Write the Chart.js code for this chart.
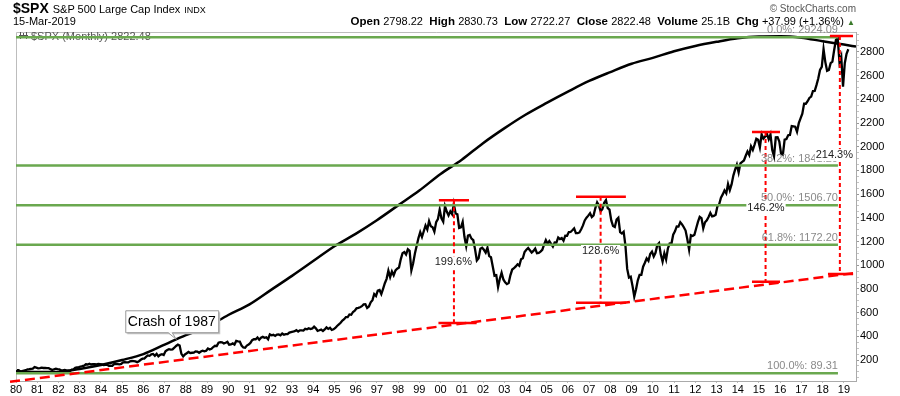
<!DOCTYPE html>
<html lang="en">
<head>
<meta charset="UTF-8">
<title>$SPX S&amp;P 500 Large Cap Index</title>
<script src="https://cdn.jsdelivr.net/npm/chart.js@4"></script>
<style>
    body { margin: 0; background: #fff; }
    #wrap { position: relative; width: 900px; height: 396px; font-family: 'Liberation Sans', Arial, sans-serif; color: #000; }
    #wrap canvas { position: absolute; left: 0; top: 0; }
    .hdr { position: absolute; white-space: nowrap; line-height: 1; }
    .hdr b { font-size: 11.5px; }
</style>
</head>
<body>
<div id="wrap">
    <canvas id="chart" width="900" height="396"></canvas>
    <div class="hdr" style="left:13px;top:1px;font-size:14px"><b style="font-size:14px">$SPX</b> <span style="font-size:11px">S&amp;P 500 Large Cap Index</span> <span style="font-size:9px">INDX</span></div>
    <div class="hdr" style="left:13px;top:16px;font-size:11px">15-Mar-2019</div>
    <div class="hdr" style="right:45px;top:16px;font-size:11.5px"><b>Open</b> <span style="font-size:11px">2798.22</span>&nbsp; <b>High</b> <span style="font-size:11px">2830.73</span>&nbsp; <b>Low</b> <span style="font-size:11px">2722.27</span>&nbsp; <b>Close</b> <span style="font-size:11px">2822.48</span>&nbsp; <b>Volume</b> <span style="font-size:11px">25.1B</span>&nbsp; <b>Chg</b> <span style="font-size:11px">+37.99 (+1.36%)</span> <span style="font-size:8px;color:#3a7a2a">&#9650;</span></div>
    <div class="hdr" style="right:44px;top:4px;font-size:10px;color:#555">&copy; StockCharts.com</div>
</div>

<script>
    // monthly closes, starting Jan 1980
    const startYear = 1980;
    const spxClose = [
        114.16,113.66,102.09,106.29,111.24,114.24,121.67,122.38,125.46,127.47,140.52,135.76,
        129.55,131.27,136.00,132.81,132.59,131.21,130.92,122.79,116.18,121.89,126.35,122.55,
        120.40,113.11,111.96,116.44,111.88,109.61,107.09,119.51,120.42,133.71,138.54,140.64,
        145.30,148.06,152.96,164.42,162.39,168.11,162.56,164.40,166.07,163.55,166.40,164.93,
        163.41,157.06,159.18,160.05,150.55,153.18,150.66,166.68,166.10,166.09,163.58,167.24,
        179.63,181.18,180.66,179.83,189.55,191.85,190.92,188.63,182.08,189.82,202.17,211.28,
        211.78,226.92,238.90,235.52,247.35,250.84,236.12,252.93,231.32,243.98,249.22,242.17,
        274.08,284.20,291.70,288.36,290.10,304.00,318.66,329.80,321.83,251.79,230.30,247.08,
        257.07,267.82,258.89,261.33,262.16,273.50,272.02,261.52,271.91,278.97,273.70,277.72,
        297.47,288.86,294.87,309.64,320.52,317.98,346.08,351.45,349.15,340.36,345.99,353.40,
        329.08,331.89,339.94,330.80,361.23,358.02,356.15,322.56,306.05,304.00,322.22,330.22,
        343.93,367.07,375.22,375.35,389.83,371.16,387.81,395.43,387.86,392.46,375.22,417.09,
        408.79,412.70,403.69,414.95,415.35,408.14,424.21,414.03,417.80,418.68,431.35,435.71,
        438.78,443.38,451.67,440.19,450.19,450.53,448.13,463.56,458.93,467.83,461.79,466.45,
        481.61,467.14,445.77,450.91,456.50,444.27,458.26,475.49,462.69,472.35,453.69,459.27,
        470.42,487.39,500.71,514.71,533.40,544.75,562.06,561.88,584.41,581.50,605.37,615.93,
        636.02,640.43,645.50,654.17,669.12,670.63,639.95,651.99,687.31,705.27,757.02,740.74,
        786.16,790.82,757.12,801.34,848.28,885.14,954.29,899.47,947.28,914.62,955.40,970.43,
        980.28,1049.34,1101.75,1111.75,1090.82,1133.84,1120.67,957.28,1017.01,1098.67,1163.63,1229.23,
        1279.64,1238.33,1286.37,1335.18,1301.84,1372.71,1328.72,1320.41,1282.71,1362.93,1388.91,1469.25,
        1394.46,1366.42,1498.58,1452.43,1420.60,1454.60,1430.83,1517.68,1436.51,1429.40,1314.95,1320.28,
        1366.01,1239.94,1160.33,1249.46,1255.82,1224.38,1211.23,1133.58,1040.94,1059.78,1139.45,1148.08,
        1130.20,1106.73,1147.39,1076.92,1067.14,989.82,911.62,916.07,815.28,885.76,936.31,879.82,
        855.70,841.15,849.18,916.92,963.59,974.50,990.31,1008.01,995.97,1050.71,1058.20,1111.92,
        1131.13,1144.94,1126.21,1107.30,1120.68,1140.84,1101.72,1104.24,1114.58,1130.20,1173.82,1211.92,
        1181.27,1203.60,1180.59,1156.85,1191.50,1191.33,1234.18,1220.33,1228.81,1207.01,1249.48,1248.29,
        1280.08,1280.66,1294.83,1310.61,1270.09,1270.20,1276.66,1303.82,1335.85,1377.94,1400.63,1418.30,
        1438.24,1406.82,1420.86,1482.37,1530.62,1503.35,1455.27,1473.99,1526.75,1549.38,1481.14,1468.36,
        1378.55,1330.63,1322.70,1385.59,1400.38,1280.00,1267.38,1282.83,1166.36,968.75,896.24,903.25,
        825.88,735.09,797.87,872.81,919.14,919.32,987.48,1020.62,1057.08,1036.19,1095.63,1115.10,
        1073.87,1104.49,1169.43,1186.69,1089.41,1030.71,1101.60,1049.33,1141.20,1183.26,1180.55,1257.64,
        1286.12,1327.22,1325.83,1363.61,1345.20,1320.64,1292.28,1218.89,1131.42,1253.30,1246.96,1257.60,
        1312.41,1365.68,1408.47,1397.91,1310.33,1362.16,1379.32,1406.58,1440.67,1412.16,1416.18,1426.19,
        1498.11,1514.68,1569.19,1597.57,1630.74,1606.28,1685.73,1632.97,1681.55,1756.54,1805.81,1848.36,
        1782.59,1859.45,1872.34,1883.95,1923.57,1960.23,1930.67,2003.37,1972.29,2018.05,2067.56,2058.90,
        1994.99,2104.50,2067.89,2085.51,2107.39,2063.11,2103.84,1972.18,1920.03,2079.36,2080.41,2043.94,
        1940.24,1932.23,2059.74,2065.30,2096.95,2098.86,2173.60,2170.95,2168.27,2126.15,2198.81,2238.83,
        2278.87,2363.64,2362.72,2384.20,2411.80,2423.41,2470.30,2471.65,2519.36,2575.26,2647.58,2673.61,
        2823.81,2713.83,2640.87,2648.05,2705.27,2718.37,2816.29,2901.52,2913.98,2711.74,2760.17,2506.85,
        2704.10,2784.49,2822.48
    ];

    // big black arc
    const arcYears = [1980,1981,1982,1983,1984,1985,1986,1987,1988,1989,1990,1991,1992,1993,1994,1995,1996,1997,1998,1999,
                      2000,2001,2002,2003,2004,2005,2006,2007,2008,2009,2010,2011,2012,2013,2014,2015,2016,2017,2018,2019,2019.57];
    const arcValues = [105,98,100,125,158,200,250,330,410,480,580,670,790,910,1035,1160,1265,1380,1505,1630,
                       1770,1890,2030,2155,2270,2370,2465,2555,2630,2700,2750,2805,2850,2885,2915,2930,2932,2920,2890,2862,2845];

    // fibonacci retracement levels
    const fibLevels = [2924.09, 1841.20, 1506.70, 1172.20, 89.31];
    const fibLabels = ['0.0%: 2924.09', '38.2%: 1841.20', '50.0%: 1506.70', '61.8%: 1172.20', '100.0%: 89.31'];
    const fibFrom = 1980;
    const fibTo = 2018.72;

    // red dashed trend line
    const trendYears = [1979.72, 2019.57];
    const trendValues = [16, 936];

    // rally measurements
    const rallyYears = [2000.63, 2007.54, 2015.31, 2018.81];
    const rallyTop = [1549, 1578, 2124, 2934];
    const rallyBottom = [512, 684, 861, 926];
    const topCapFrom = [1999.92, 2006.38, 2014.67, 2018.34];
    const topCapTo = [2001.34, 2008.73, 2015.99, 2019.43];
    const bottomCapFrom = [1999.9, 2006.38, 2014.67, 2018.25];
    const bottomCapTo = [2001.7, 2008.73, 2015.99, 2019.43];
    const rallyLabels = ['199.6%', '128.6%', '146.2%', '214.3%'];
    const rallyLabelYears = [2000.6, 2007.54, 2015.33, 2018.55];
    const rallyLabelValues = [1025, 1120, 1483, 1929];

    const crashText = 'Crash of 1987';
    const crashPoint = [1987.55, 375];

    const yearLabels = ['80','81','82','83','84','85','86','87','88','89','90','91','92','93','94','95','96','97','98','99',
                        '00','01','02','03','04','05','06','07','08','09','10','11','12','13','14','15','16','17','18','19'];
    const yTickLabels = [200,400,600,800,1000,1200,1400,1600,1800,2000,2200,2400,2600,2800];

    // build the datasets
    const pricePts = spxClose.map((v, i) => ({ x: startYear + (i + 0.5) / 12, y: v }));
    const arcPts = arcYears.map((x, i) => ({ x: x, y: arcValues[i] }));
    const fibPts = [];
    fibLevels.forEach(v => { fibPts.push({ x: fibFrom, y: v }, { x: fibTo, y: v }, { x: fibTo, y: null }); });
    const trendPts = trendYears.map((x, i) => ({ x: x, y: trendValues[i] }));
    const vertPts = [];
    const capPts = [];
    rallyYears.forEach((x, i) => {
        vertPts.push({ x: x, y: rallyTop[i] }, { x: x, y: rallyBottom[i] }, { x: x, y: null });
        capPts.push({ x: topCapFrom[i], y: rallyTop[i] }, { x: topCapTo[i], y: rallyTop[i] }, { x: topCapTo[i], y: null });
        capPts.push({ x: bottomCapFrom[i], y: rallyBottom[i] }, { x: bottomCapTo[i], y: rallyBottom[i] }, { x: bottomCapTo[i], y: null });
    });

    const FONT = "'Liberation Sans', Arial, sans-serif";
    Chart.defaults.font.family = FONT;
    Chart.defaults.font.size = 11;
    Chart.defaults.color = '#000';

    const line = (data, color, width, extra) => Object.assign({
        data: data, borderColor: color, borderWidth: width, pointRadius: 0,
        fill: false, spanGaps: false, tension: 0
    }, extra || {});

    // extra drawings: frame, legend text, level labels, callout
    const drawings = {
        id: 'drawings',
        beforeDatasetsDraw(chart) {
            const ctx = chart.ctx, a = chart.chartArea;
            ctx.save();
            ctx.strokeStyle = '#bdbdbd';
            ctx.lineWidth = 1;
            ctx.beginPath();
            ctx.moveTo(a.left + 0.5, a.bottom);
            ctx.lineTo(a.left + 0.5, a.top + 0.5);
            ctx.lineTo(a.right, a.top + 0.5);
            ctx.stroke();
            // small bar icon + legend
            ctx.strokeStyle = '#555';
            ctx.beginPath();
            ctx.moveTo(a.left + 4.5, 32); ctx.lineTo(a.left + 4.5, 39);
            ctx.moveTo(a.left + 7.5, 33); ctx.lineTo(a.left + 7.5, 38);
            ctx.moveTo(a.left + 10.5, 32); ctx.lineTo(a.left + 10.5, 39);
            ctx.moveTo(a.left + 3, 35.5); ctx.lineTo(a.left + 12, 35.5);
            ctx.stroke();
            ctx.fillStyle = '#555';
            ctx.font = '11px ' + FONT;
            ctx.textBaseline = 'alphabetic';
            ctx.fillText('$SPX (Monthly) 2822.48', a.left + 15, 40);
            ctx.restore();
        },
        afterDatasetsDraw(chart) {
            const ctx = chart.ctx, xs = chart.scales.x, ys = chart.scales.y;
            ctx.save();
            ctx.font = '11px ' + FONT;
            ctx.textBaseline = 'alphabetic';
            ctx.textAlign = 'right';
            ctx.fillStyle = '#8a8a8a';
            fibLevels.forEach((v, i) => {
                ctx.fillText(fibLabels[i], xs.getPixelForValue(fibTo), ys.getPixelForValue(v) - 4);
            });
            ctx.textAlign = 'center';
            ctx.textBaseline = 'middle';
            rallyLabels.forEach((t, i) => {
                const px = xs.getPixelForValue(rallyLabelYears[i]);
                const py = ys.getPixelForValue(rallyLabelValues[i]);
                const w = ctx.measureText(t).width;
                ctx.fillStyle = '#fff';
                ctx.fillRect(px - w / 2 - 1, py - 6, w + 2, 12);
                ctx.fillStyle = '#222';
                ctx.fillText(t, px, py);
            });
            // crash callout
            const tx = xs.getPixelForValue(crashPoint[0]);
            const ty = ys.getPixelForValue(crashPoint[1]);
            const bx = tx - 51, by = ty - 29, bw = 93, bh = 22;
            ctx.fillStyle = '#c8c8c8';
            ctx.fillRect(bx + 2, by + 2, bw, bh);
            ctx.beginPath();
            ctx.moveTo(bx + 43, by + bh);
            ctx.lineTo(tx, ty);
            ctx.lineTo(bx + 47, by + bh);
            ctx.closePath();
            ctx.fillStyle = '#fff';
            ctx.fill();
            ctx.fillRect(bx, by, bw, bh);
            ctx.strokeStyle = '#999';
            ctx.lineWidth = 1;
            ctx.beginPath();
            ctx.moveTo(bx + 43, by + bh + 0.5);
            ctx.lineTo(tx, ty);
            ctx.lineTo(bx + 47, by + bh + 0.5);
            ctx.lineTo(bx + bw + 0.5, by + bh + 0.5);
            ctx.lineTo(bx + bw + 0.5, by + 0.5);
            ctx.lineTo(bx + 0.5, by + 0.5);
            ctx.lineTo(bx + 0.5, by + bh + 0.5);
            ctx.closePath();
            ctx.stroke();
            ctx.fillStyle = '#000';
            ctx.font = '14px ' + FONT;
            ctx.fillText(crashText, bx + bw / 2, by + bh / 2 + 1);
            ctx.restore();
        }
    };

    new Chart(document.getElementById('chart'), {
        type: 'line',
        data: {
            datasets: [
                line(capPts, '#ff0000', 2.5),
                line(vertPts, '#ff0000', 2, { borderDash: [4, 3] }),
                line(trendPts, '#ff0000', 2.5, { borderDash: [10, 5], clip: false }),
                line(fibPts, '#6aa84f', 2.5),
                line(arcPts, '#000', 2.5, { tension: 0.4, cubicInterpolationMode: 'monotone' }),
                line(pricePts, '#000', 2.3)
            ]
        },
        options: {
            responsive: false,
            animation: false,
            devicePixelRatio: 1,
            layout: { padding: { left: 16, top: 32, right: 0, bottom: 0 } },
            plugins: { legend: { display: false }, tooltip: { enabled: false } },
            scales: {
                x: {
                    type: 'linear',
                    min: 1980,
                    max: 2019.57,
                    afterFit: s => { s.height = 15; },
                    border: { color: '#aaa' },
                    grid: { drawOnChartArea: false, tickLength: 2, color: '#bbb' },
                    ticks: {
                        stepSize: 1, autoSkip: false, maxRotation: 0, padding: 0, includeBounds: false,
                        callback: v => Number.isInteger(v) ? yearLabels[v - startYear] : null
                    }
                },
                y: {
                    position: 'right',
                    min: 23,
                    max: 2968,
                    afterFit: s => { s.width = 44; },
                    border: { color: '#aaa' },
                    grid: {
                        drawOnChartArea: false, tickLength: 3,
                        tickColor: c => (c.tick && c.tick.value % 200 === 0) ? '#999' : '#c4c4c4'
                    },
                    ticks: {
                        stepSize: 50, autoSkip: false, padding: 1, includeBounds: false,
                        callback: v => yTickLabels.includes(v) ? String(v) : (v % 50 === 0 ? '' : null)
                    }
                }
            }
        },
        plugins: [drawings]
    });
</script>
</body>
</html>
